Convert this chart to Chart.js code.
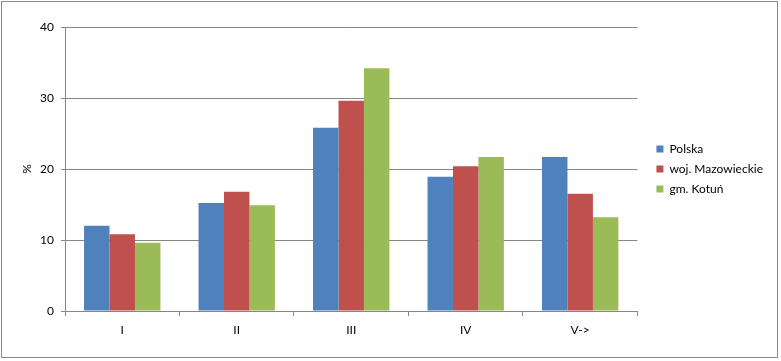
<!DOCTYPE html>
<html><head><meta charset="utf-8">
<script src="https://cdn.jsdelivr.net/npm/chart.js@4"></script>
<style>html,body{margin:0;padding:0;background:#fff}canvas{display:block}</style>
</head><body>
<canvas id="c" width="781" height="361"></canvas>
<script>
const categories = ['I', 'II', 'III', 'IV', 'V->'];
const polska = [12.0, 15.2, 25.8, 18.9, 21.7];
const mazowieckie = [10.8, 16.8, 29.6, 20.4, 16.5];
const kotun = [9.6, 14.9, 34.2, 21.7, 13.2];
const yTicks = [0, 10, 20, 30, 40];

const GRID = '#868686';
const FONT = {family: 'Lato, "Open Sans", sans-serif', size: 12};

const framePlugin = {
  id: 'frame',
  afterLayout(chart) {
    // leave a gap between the plot area and the legend, as in the reference
    const lg = chart.legend;
    if (lg) { lg.left += 11; lg.right += 11; }
  },
  beforeDraw(chart) {
    const ctx = chart.ctx;
    ctx.save();
    ctx.fillStyle = '#fff';
    ctx.fillRect(0, 0, chart.width, chart.height);
    ctx.strokeStyle = '#8a8a8a';
    ctx.lineWidth = 1;
    ctx.strokeRect(1.5, 1.5, 776, 356);
    ctx.restore();
  }
};

new Chart(document.getElementById('c'), {
  type: 'bar',
  data: {
    labels: categories,
    datasets: [
      {label: 'Polska', data: polska, backgroundColor: '#4F81BD'},
      {label: 'woj. Mazowieckie', data: mazowieckie, backgroundColor: '#C0504D'},
      {label: 'gm. Kotuń', data: kotun, backgroundColor: '#9BBB59'}
    ]
  },
  options: {
    responsive: false,
    animation: false,
    devicePixelRatio: 1,
    datasets: {bar: {barPercentage: 1.0, categoryPercentage: 0.667}},
    layout: {padding: {top: 27, left: 0, right: 19, bottom: 0}},
    plugins: {
      legend: {
        position: 'right',
        align: 'center',
        fullSize: false,
        labels: {
          boxWidth: 7, boxHeight: 7, padding: 8,
          color: '#000', font: FONT
        }
      },
      tooltip: {enabled: false}
    },
    scales: {
      x: {
        grid: {drawOnChartArea: false, drawTicks: true, tickLength: 5, color: GRID},
        border: {color: GRID},
        ticks: {color: '#000', font: FONT, padding: 7},
        afterFit(s) { s.height = 50; }
      },
      y: {
        min: 0, max: 40,
        afterBuildTicks(s) { s.ticks = yTicks.map(v => ({value: v})); },
        grid: {color: GRID, drawTicks: true, tickLength: 4},
        border: {color: GRID},
        ticks: {color: '#000', font: FONT, padding: 7},
        title: {display: true, text: '%', color: '#000', font: FONT, padding: {top: 20, bottom: 0}},
        afterFit(s) { s.width = 65; }
      }
    }
  },
  plugins: [framePlugin]
});
</script>
</body></html>
